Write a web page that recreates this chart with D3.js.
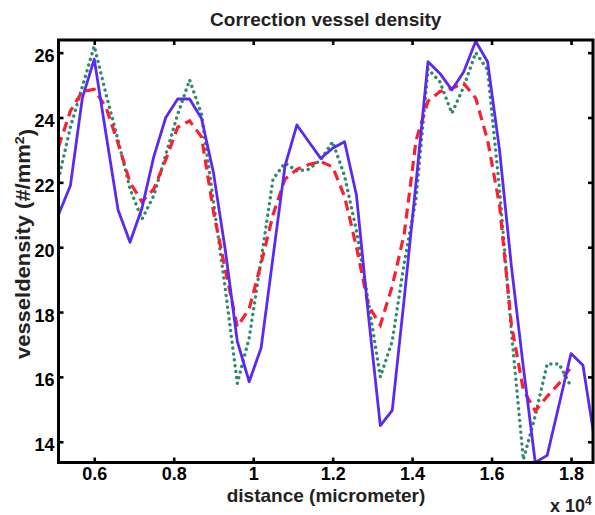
<!DOCTYPE html>
<html>
<head>
<meta charset="utf-8">
<script src="https://cdn.jsdelivr.net/npm/d3@7"></script>
<style>
  html, body { margin: 0; padding: 0; background: #fff; }
  svg { display: block; font-family: "Liberation Sans", Arial, Helvetica, sans-serif; font-weight: bold; }
</style>
</head>
<body>
<svg id="chart" width="595" height="515"></svg>
<script>
// Sampling positions along the vessel (micrometer)
const distance = [
  5100, 5400, 5700, 6000, 6300, 6600, 6900, 7200, 7500, 7800,
  8100, 8400, 8700, 9000, 9300, 9600, 9900, 10200, 10500, 10800,
  11100, 11400, 11700, 12000, 12300, 12600, 12900, 13200, 13500, 13800,
  14100, 14400, 14700, 15000, 15300, 15600, 15900, 16200, 16500, 16800,
  17100, 17400, 17700, 18000, 18300, 18600
];

// Measured vessel density (solid)
const measuredDensity = [
  21.0, 21.9, 24.6, 25.8, 23.45, 21.15, 20.15, 21.2, 22.8, 24.0,
  24.57, 24.57, 23.97, 22.3, 19.9, 17.1, 15.85, 16.9, 19.7, 22.5,
  23.77, 23.25, 22.74, 23.05, 23.25, 21.6, 17.9, 14.5, 14.97, 18.4,
  22.0, 25.72, 25.36, 24.85, 25.41, 26.35, 25.72, 23.0, 19.4, 16.3,
  13.36, 13.58, 15.15, 16.72, 16.36, 14.0
];

// Corrected vessel density (dotted)
const correctedDensity = [
  22.1, 23.7, 24.95, 26.2, 24.7, 23.3, 21.8, 20.86, 21.6, 22.85,
  24.1, 25.16, 24.1, 21.4, 18.7, 15.8, 17.2, 19.6, 22.1, 22.6,
  22.35, 22.4, 22.7, 23.25, 22.2, 20.5, 18.3, 16.0, 17.1, 19.5,
  21.5, 25.5, 25.1, 24.13, 24.95, 26.0, 25.47, 21.8, 17.4, 13.45,
  14.8, 16.4, 16.4, 15.7
];

// Smoothed vessel density (dashed)
const smoothedDensity = [
  23.1, 24.2, 24.8, 24.87, 24.3, 23.2, 22.0, 21.4, 21.8, 22.7,
  23.7, 23.9, 23.4, 21.1, 19.3, 17.55, 18.1, 19.5, 21.0, 22.1,
  22.4, 22.55, 22.64, 22.48, 21.56, 20.0, 18.2, 17.6, 18.8, 20.4,
  23.3, 24.5, 24.8, 24.9, 25.05, 24.6, 23.3, 21.3, 17.6, 15.6,
  14.95, 15.4, 15.8, 16.3
];

const xTickValues = [6000, 8000, 10000, 12000, 14000, 16000, 18000];
const yTickValues = [14, 16, 18, 20, 22, 24, 26];

const plot = { left: 58.5, right: 593, top: 40, bottom: 462.5 };

const x = d3.scaleLinear().domain([5100, 18553]).range([plot.left, plot.right]);
const y = d3.scaleLinear().domain([13.36, 26.39]).range([plot.bottom, plot.top]);

const svg = d3.select("#chart");

svg.append("defs").append("clipPath").attr("id", "plot-clip")
  .append("rect")
  .attr("x", plot.left).attr("y", plot.top)
  .attr("width", plot.right - plot.left).attr("height", plot.bottom - plot.top);

// Data lines
const line = d3.line()
  .x((d, i) => x(distance[i]))
  .y(d => y(d));

const lines = svg.append("g").attr("clip-path", "url(#plot-clip)")
  .attr("fill", "none");

lines.append("path")
  .attr("d", line(correctedDensity))
  .attr("stroke", "#2f8a6e")
  .attr("stroke-width", 3.4)
  .attr("stroke-linecap", "round")
  .attr("stroke-dasharray", "0.1 5.8");

lines.append("path")
  .attr("d", line(smoothedDensity))
  .attr("stroke", "#fb2030")
  .attr("stroke-width", 3.2)
  .attr("stroke-dasharray", "10 6");

lines.append("path")
  .attr("d", line(measuredDensity))
  .attr("stroke", "#5a2af2")
  .attr("stroke-width", 2.8)
  .attr("stroke-linejoin", "round");

// Axes with inward ticks on all four sides
const tickFmt = d => d3.format("~g")(d / 1e4);

function styleAxis(g) {
  g.select(".domain").remove();
  g.selectAll(".tick line").attr("stroke", "#000").attr("stroke-width", 2.6);
  g.selectAll(".tick text")
    .attr("fill", "#000")
    .style("font-family", "'Liberation Sans', Arial, sans-serif")
    .style("font-weight", "bold")
    .style("font-size", "18px");
}

svg.append("g")
  .attr("transform", `translate(0,${plot.bottom})`)
  .call(d3.axisBottom(x).tickValues(xTickValues).tickSize(-5).tickPadding(5).tickFormat(tickFmt))
  .call(styleAxis);

svg.append("g")
  .attr("transform", `translate(0,${plot.top})`)
  .call(d3.axisTop(x).tickValues(xTickValues).tickSize(-5).tickFormat(""))
  .call(styleAxis);

svg.append("g")
  .attr("transform", `translate(${plot.left},0)`)
  .call(d3.axisLeft(y).tickValues(yTickValues).tickSize(-5).tickPadding(4))
  .call(styleAxis)
  .selectAll(".tick text").attr("dy", "0.5em");

svg.append("g")
  .attr("transform", `translate(${plot.right},0)`)
  .call(d3.axisRight(y).tickValues(yTickValues).tickSize(-5).tickFormat(""))
  .call(styleAxis);

// Frame
svg.append("rect")
  .attr("x", plot.left).attr("y", plot.top)
  .attr("width", plot.right - plot.left).attr("height", plot.bottom - plot.top)
  .attr("fill", "none").attr("stroke", "#000").attr("stroke-width", 3);

// Title
svg.append("text")
  .attr("x", (plot.left + plot.right) / 2).attr("y", 26)
  .attr("text-anchor", "middle")
  .style("font-size", "19px")
  .attr("fill", "#222")
  .text("Correction vessel density");

// X axis label
svg.append("text")
  .attr("x", 326).attr("y", 502)
  .attr("text-anchor", "middle")
  .style("font-size", "19px")
  .attr("fill", "#222")
  .text("distance (micrometer)");

// Exponent note
const expo = svg.append("text")
  .attr("x", 550).attr("y", 512)
  .style("font-size", "18px")
  .attr("fill", "#222");
expo.append("tspan").text("x 10");
expo.append("tspan").attr("dy", "-0.55em").style("font-size", "12px").text("4");

// Y axis label
const yl = svg.append("text")
  .attr("transform", "translate(30,244) rotate(-90)")
  .attr("text-anchor", "middle")
  .style("font-size", "20px")
  .attr("fill", "#222")
  .attr("textLength", 230)
  .attr("lengthAdjust", "spacingAndGlyphs");
yl.append("tspan").text("vesseldensity (#/mm");
yl.append("tspan").attr("dy", "-0.5em").style("font-size", "13px").text("2");
yl.append("tspan").attr("dy", "0.5em").text(")");
</script>
</body>
</html>
